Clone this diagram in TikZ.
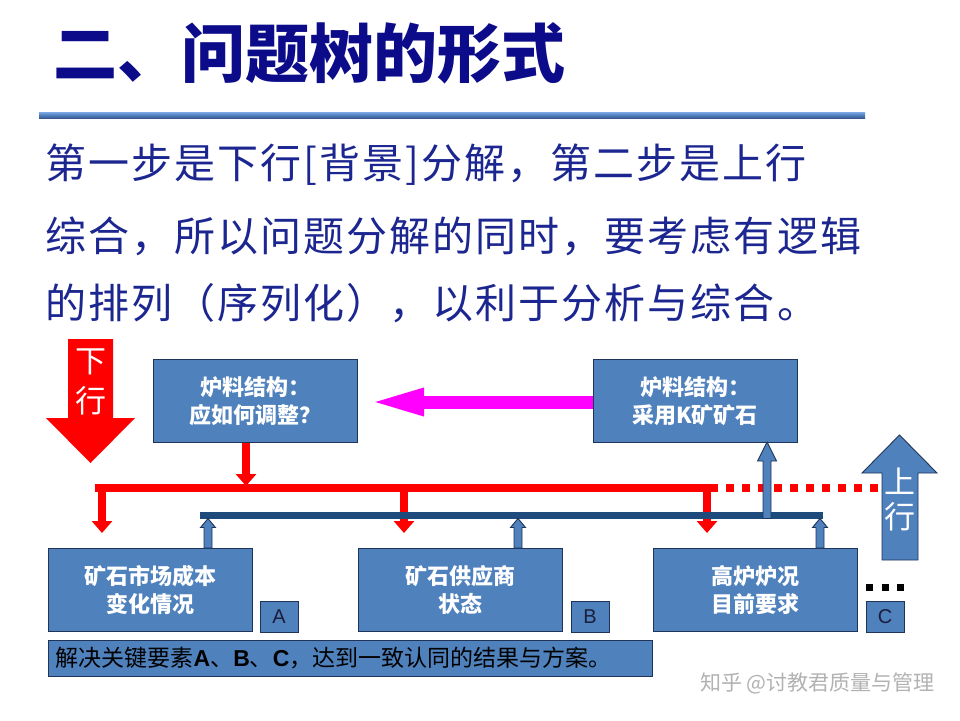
\documentclass[tikz,border=0pt]{standalone}
\usepackage{fontspec}
\setmainfont{Liberation Sans}
\newfontfamily\cjk{Noto Sans CJK SC}
\newfontfamily\lat{Liberation Sans}
\usetikzlibrary{arrows.meta,calc}
\definecolor{boxblue}{HTML}{4F81BD}
\definecolor{boxline}{HTML}{1F3458}
\definecolor{navybar}{HTML}{1F4A7C}
\definecolor{titlenavy}{HTML}{0C0C8A}
\definecolor{bodyblue}{HTML}{1C2690}
\definecolor{redc}{HTML}{FF0000}
\definecolor{magc}{HTML}{FF00FF}
\definecolor{lbltext}{HTML}{1A1E3A}
\definecolor{linetop}{HTML}{7FA8E8}
\definecolor{linebot}{HTML}{3A5A92}
\newcommand\blkup[6]{%
  \filldraw[bluearr] (#1-#4,#2) -- (#1-#4,#3+#6) -- (#1-#5,#3+#6) -- (#1,#3)
    -- (#1+#5,#3+#6) -- (#1+#4,#3+#6) -- (#1+#4,#2) -- cycle;}
\tikzset{
  box/.style={draw=boxline, line width=1pt, fill=boxblue, minimum width=204pt,
    minimum height=83pt, inner sep=0pt, text=white, align=center,
    font=\cjk\bfseries\fontsize{22}{28}\selectfont},
  lbl/.style={draw=boxline, line width=1pt, fill=boxblue, minimum width=38pt,
    minimum height=31pt, inner sep=0pt, text=lbltext,
    font=\lat\fontsize{20}{20}\selectfont},
  bluearr/.style={fill=boxblue, draw=boxline, line width=0.9pt, line join=miter},
  redarr/.style={redc, line width=8.5pt, -{Triangle[length=12pt,width=20pt]}},
  bodytext/.style={anchor=base west, inner sep=0pt, text=bodyblue},
}
\begin{document}
\begin{tikzpicture}[x=1pt,y=-1pt]
\fill[white] (0,0) rectangle (960,720);
\useasboundingbox (0,0) rectangle (960,720);

% title
\node[anchor=base west, inner sep=0pt, text=titlenavy,
  font=\cjk\bfseries\fontsize{64}{64}\selectfont] (title) at (53,77) {二、问题树的形式};
\shade[top color=linetop, bottom color=linebot, middle color=boxblue]
  (39,112) rectangle (865,118);

% body text
\node[bodytext, font=\cjk\fontsize{41}{41}\selectfont\addfontfeature{LetterSpace=5}] (l1) at (45,178)
  {第一步是下行[背景]分解，第二步是上行};
\node[bodytext, font=\cjk\fontsize{41}{41}\selectfont\addfontfeature{LetterSpace=5}] (l2) at (45,251)
  {综合，所以问题分解的同时，要考虑有逻辑};
\node[bodytext, font=\cjk\fontsize{41}{41}\selectfont\addfontfeature{LetterSpace=5}] (l3) at (45,318)
  {的排列（序列化），以利于分析与综合。};

% boxes
\node[box] (top1) at (255.5,401) {炉料结构：\\应如何调整？};
\node[box] (top2) at (695,401) {炉料结构：\\采用K矿矿石};
\node[box] (bA) at (150,590) {矿石市场成本\\变化情况};
\node[box] (bB) at (460,590) {矿石供应商\\状态};
\node[box] (bC) at (755,590) {高炉炉况\\目前要求};
\node[lbl] (lA) at (279,616.5) {A};
\node[lbl] (lB) at (590,616.5) {B};
\node[lbl] (lC) at (885,617) {C};
\node[draw=boxline, line width=1pt, fill=boxblue, minimum width=604pt, minimum height=36pt,
  inner sep=0pt] (sum) at (350,658) {};
\node[anchor=west, inner sep=0pt, text=black, font=\cjk\fontsize{23}{23}\selectfont]
  (sumtext) at ($(sum.west)+(8,0)$)
  {解决关键要素{\lat\bfseries A}、{\lat\bfseries B}、{\lat\bfseries C}，达到一致认同的结果与方案。};

% 下行 big arrow
\fill[redc] (68,339) -- (113,339) -- (113,418) -- (135,418) -- (90.5,463) -- (46,418) -- (68,418) -- cycle;
\node[text=white, font=\cjk\fontsize{31}{31}\selectfont, inner sep=0pt] (down1) at (90.5,362) {下};
\node[text=white, font=\cjk\fontsize{31}{31}\selectfont, inner sep=0pt] (down2) at (90.5,401) {行};

% 上行 big arrow
\filldraw[bluearr] (882,560) -- (882,473) -- (862,473) -- (899.5,435) -- (937,473) -- (918,473) -- (918,560) -- cycle;
\node[text=white, font=\cjk\fontsize{31}{31}\selectfont, inner sep=0pt] (up1) at (900,481) {上};
\node[text=white, font=\cjk\fontsize{31}{31}\selectfont, inner sep=0pt] (up2) at (900,517) {行};

% magenta arrow
\coordinate (magtip) at ($(top1.east)+(8,1)$);
\draw[magc, line width=13pt, -{Triangle[length=58pt,width=24pt]}] ($(top2.west)+(0,1)$) -- (magtip);

% red bar
\coordinate (rL) at (95,488);
\coordinate (rM) at (710,488);
\coordinate (rR) at (879,488);
\draw[redc, line width=8pt] (rL) -- (rM);
\draw[redc, line width=8pt, dash pattern=on 8pt off 8pt] (rM) -- (rR);
\draw[redarr] ($(top1.south)+(-9.5,0)$) -- (246,486);
\draw[redarr] (102,488) -- (102,533);
\draw[redarr] (404,488) -- (404,533);
\draw[redarr] (707,488) -- (707,533);

% navy bar
\coordinate (nL) at (200,515);
\coordinate (nR) at (823,515);
\draw[navybar, line width=7pt] (nL) -- (nR);

% blue up arrows
\blkup{208}{548}{518.5}{4}{7.5}{9}
\blkup{518}{548}{518.5}{4}{7.5}{9}
\blkup{820}{548}{518.5}{4}{7.5}{9}
\blkup{767}{518.5}{442}{4}{9.5}{19}

% dots near C
\draw[black, line width=7pt, dash pattern=on 7pt off 8.5pt] (866,587) -- (906,587);

% watermark
\node[anchor=west, inner sep=0pt, text=black!30, font=\cjk\fontsize{21}{21}\selectfont] (wm) at (700,683)
  {知乎 @讨教君质量与管理};
\end{tikzpicture}
\end{document}
